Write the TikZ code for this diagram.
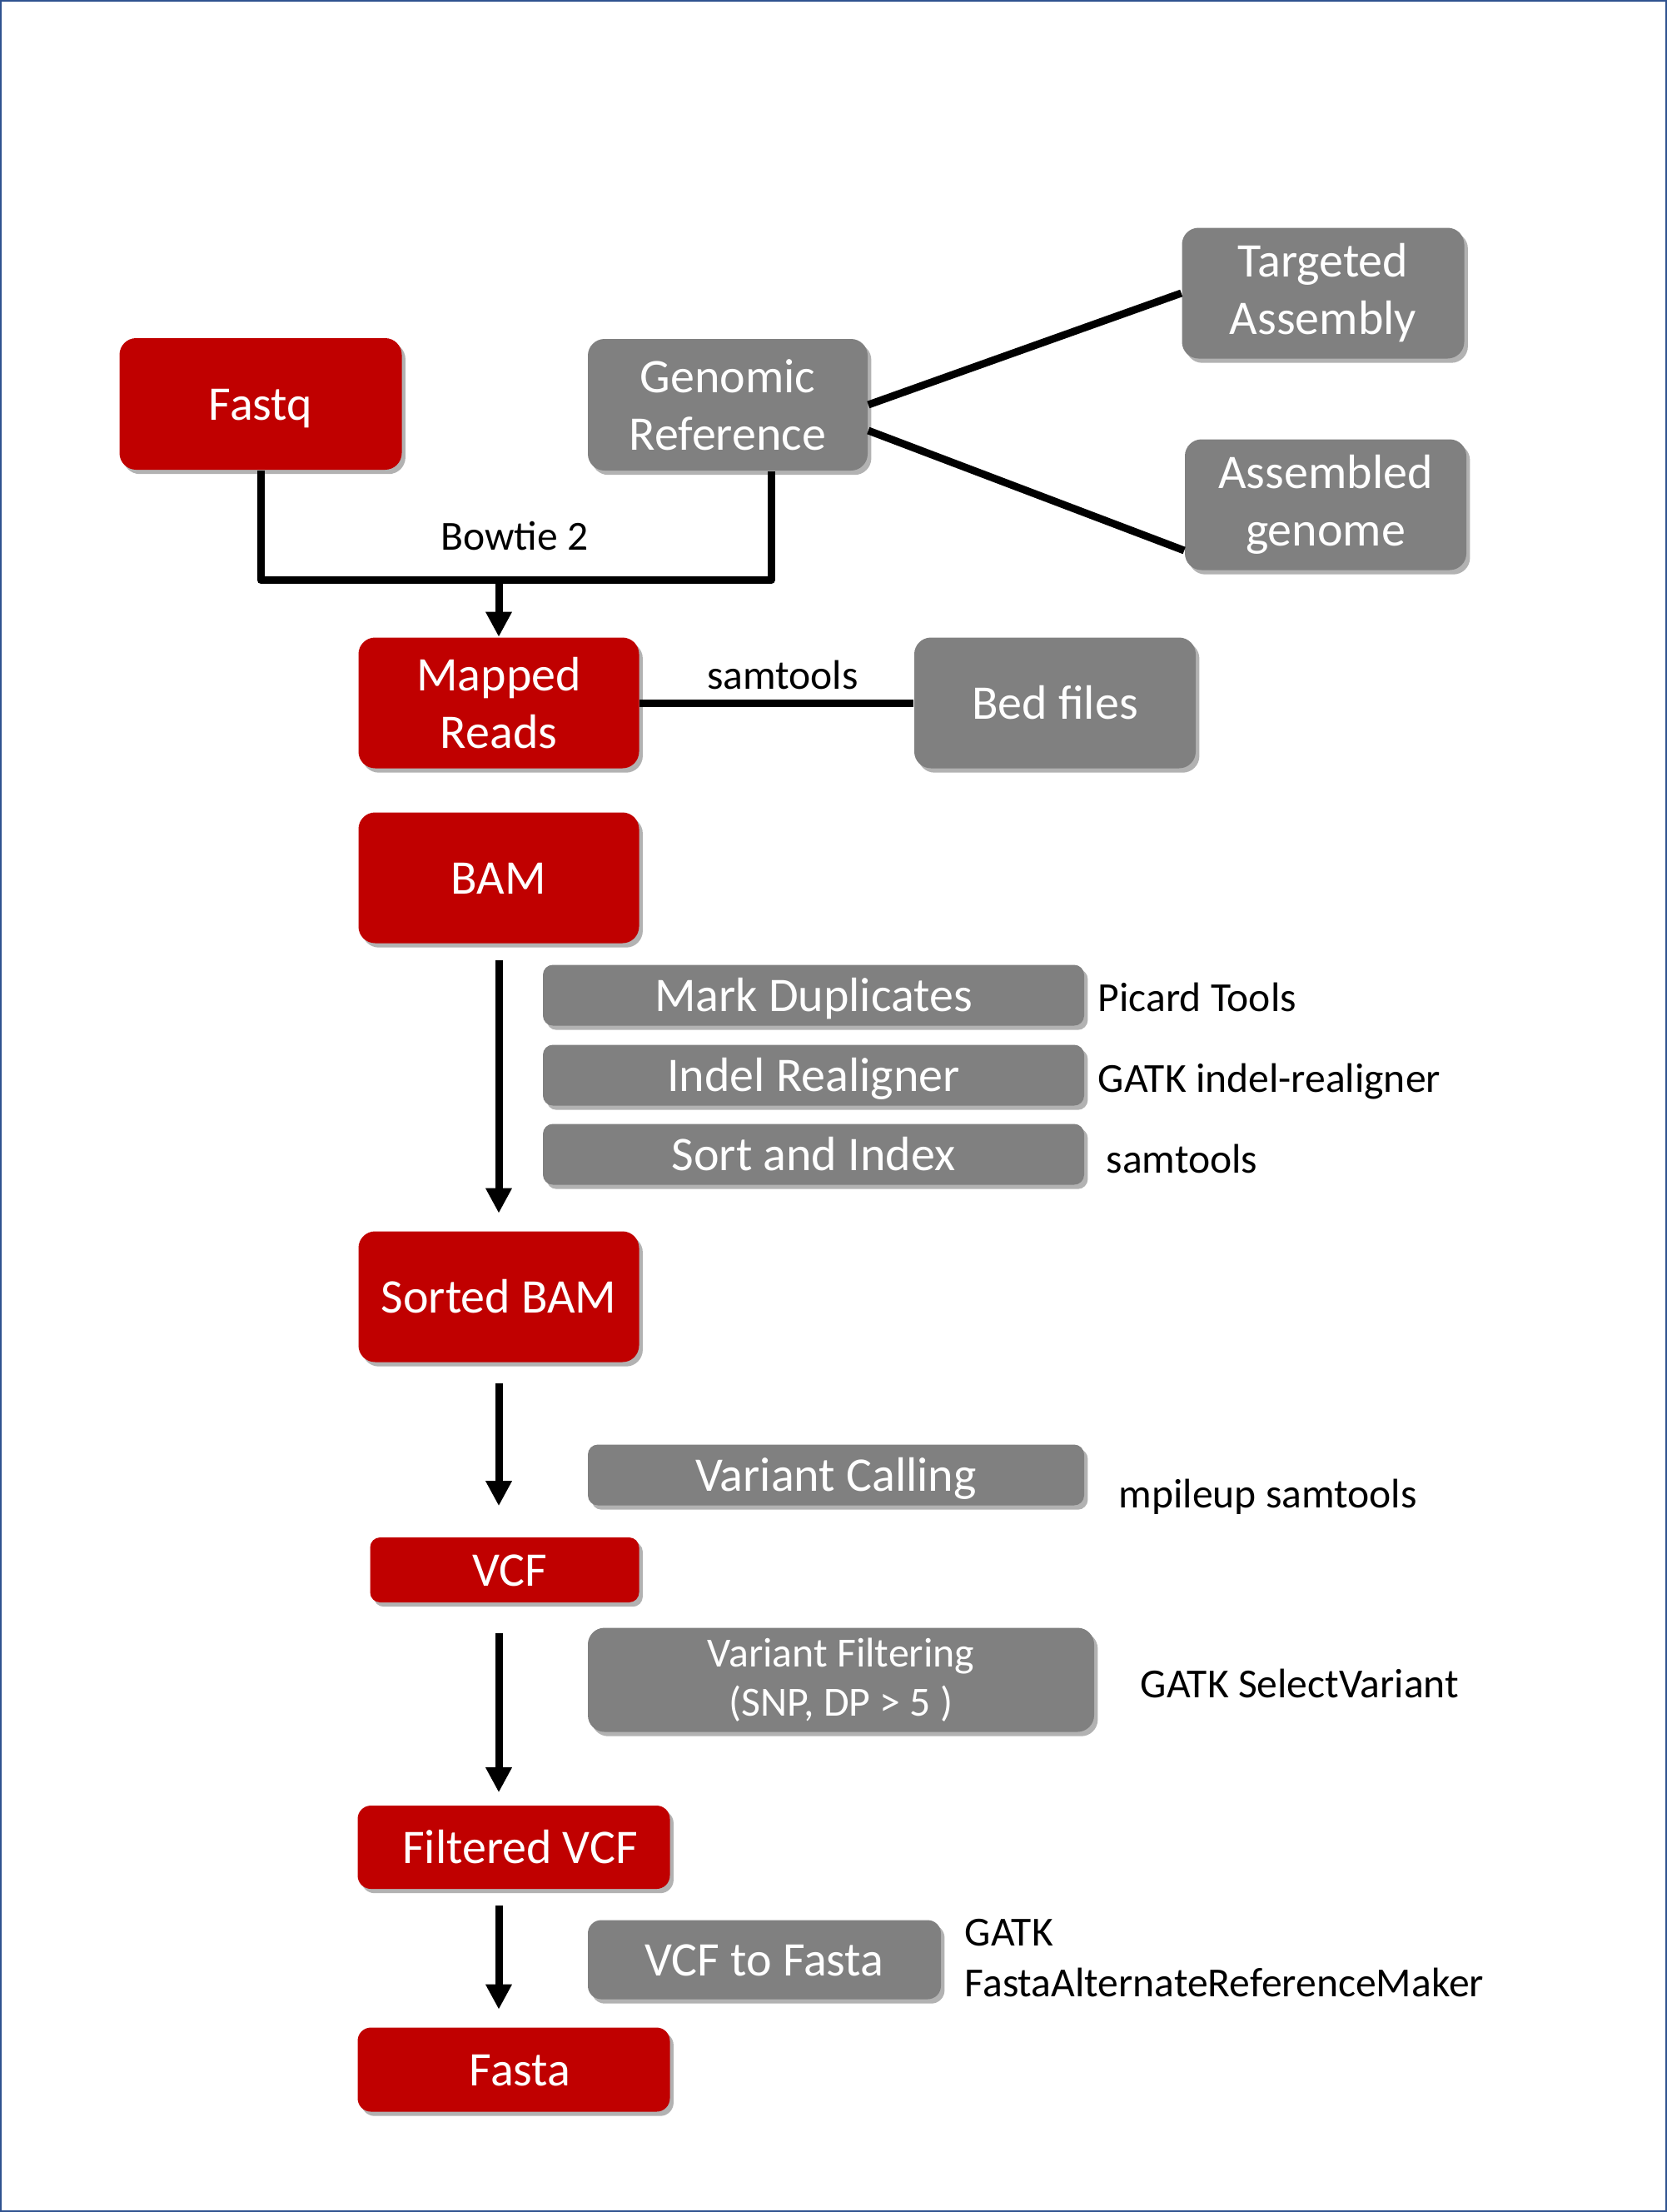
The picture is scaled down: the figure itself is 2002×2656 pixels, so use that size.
\documentclass[tikz,border=0pt]{standalone}
\usepackage{fontspec}
\setmainfont{Carlito}
\usetikzlibrary{arrows.meta,shadows,calc}
\definecolor{boxred}{HTML}{C00000}
\definecolor{boxgray}{HTML}{808080}
\definecolor{frameblue}{HTML}{2F528F}
\tikzset{
  basebox/.style={text=white, align=center, inner sep=0pt,
    font=\fontsize{14.5}{17.25}\selectfont,
    drop shadow={shadow xshift=1.1pt, shadow yshift=-1.3pt, opacity=0.3, fill=black}},
  oneline/.style={text height=9.9pt, text depth=0pt},
  redbox/.style={basebox, fill=boxred, rounded corners=5pt},
  graybox/.style={basebox, fill=boxgray, rounded corners=5pt},
  barbox/.style={basebox, oneline, fill=boxgray, rounded corners=3pt},
  lbl/.style={font=\fontsize{12.4}{15.25}\selectfont, inner sep=0pt, align=left},
  conn/.style={line width=2.25pt, line join=round},
  arr/.style={line width=2.25pt, -{Triangle[length=7.5pt,width=7.4pt]}}
}
\begin{document}
\begin{tikzpicture}[x=0.25pt,y=-0.25pt]
\useasboundingbox (0,0) rectangle (2002,2656);
\draw[frameblue, line width=0.6pt] (1.2,1.2) rectangle (2000.8,2654.8);

% boxes
\node[redbox, oneline, minimum width=84.75pt, minimum height=39.5pt] (fastq) at (313,485) {Fastq};
\node[graybox, minimum width=84pt, minimum height=39.5pt] (genref) at (874,486) {Genomic\\Reference};
\node[graybox, minimum width=84.75pt, minimum height=39.25pt] (targ) at (1589,352) {Targeted\\Assembly};
\node[graybox, minimum width=84.5pt, minimum height=39.25pt] (asm) at (1592,606) {Assembled\\genome};
\node[redbox, minimum width=84.25pt, minimum height=39.25pt] (mapped) at (599,844) {Mapped\\Reads};
\node[graybox, oneline, minimum width=84.5pt, minimum height=39.25pt] (bed) at (1267,844) {Bed files};
\node[redbox, oneline, minimum width=84.25pt, minimum height=39.25pt] (bam) at (599,1054) {BAM};
\node[barbox, minimum width=162.5pt, minimum height=18.25pt] (markdup) at (977,1195) {Mark Duplicates};
\node[barbox, minimum width=162.5pt, minimum height=18.25pt] (indel) at (977,1291) {Indel Realigner};
\node[barbox, minimum width=162.5pt, minimum height=18.25pt] (sortidx) at (977,1386) {Sort and Index};
\node[redbox, oneline, minimum width=84.25pt, minimum height=39.25pt] (sorted) at (599,1557) {Sorted BAM};
\node[barbox, minimum width=149pt, minimum height=18.25pt] (varcall) at (1004,1771) {Variant Calling};
\node[redbox, oneline, rounded corners=3pt, minimum width=80.75pt, minimum height=19.5pt] (vcf) at (606,1885) {\hspace*{3pt}VCF};
\node[graybox, font=\fontsize{12.45}{14.75}\selectfont, minimum width=152pt, minimum height=31.25pt] (varfilt) at (1010,2017) {Variant Filtering\\(SNP, DP > 5 )};
\node[redbox, oneline, rounded corners=4pt, minimum width=93.75pt, minimum height=25pt] (fvcf) at (617,2218) {\hspace*{3.8pt}Filtered VCF};
\node[graybox, oneline, rounded corners=4pt, minimum width=106pt, minimum height=23.75pt] (vcf2fa) at (918,2353) {VCF to Fasta};
\node[redbox, oneline, rounded corners=4pt, minimum width=93.75pt, minimum height=25.25pt] (fasta) at (617,2485) {\hspace*{3.8pt}Fasta};

% labels
\node[lbl] (bowtie) at (618,644) {Bowtie 2};
\node[lbl] (samt1) at (940,810) {samtools};
\node[lbl, anchor=west] (picard) at (1318,1197) {Picard Tools};
\node[lbl, anchor=west] (gatkindel) at (1318,1299) {GATK indel-realigner};
\node[lbl, anchor=west] (samt2) at (1328,1391) {samtools};
\node[lbl, anchor=west] (mpileup) at (1343,1797) {mpileup samtools};
\node[lbl, anchor=west] (select) at (1369,2021) {GATK SelectVariant};
\node[lbl, anchor=west] (farm) at (1158,2351) {GATK\\FastaAlternateReferenceMaker};

% connectors
\path (fastq.south) ++(0,132) coordinate (jl);
\draw[conn] (fastq.south) -- (jl) -| ([xshift=13pt]genref.south);
\draw[arr] (mapped.north |- jl) -- (mapped.north);
\draw[conn] (genref.east) -- (targ.west);
\draw[conn] ([yshift=-7.75pt]genref.east) -- ([yshift=-13.75pt]asm.west);
\draw[conn] (mapped.east) -- (bed.west);

\draw[arr, shorten <=5pt, shorten >=5.25pt] (bam.south) -- (bam.south |- sorted.north);
\draw[arr, shorten <=6.25pt, shorten >=9.25pt] (sorted.south) -- (sorted.south |- vcf.north);
\draw[arr, shorten <=9pt, shorten >=3.75pt] (sorted.south |- vcf.south) -- (sorted.south |- fvcf.north);
\draw[arr, shorten <=4.75pt, shorten >=5.25pt] (sorted.south |- fvcf.south) -- (sorted.south |- fasta.north);
\end{tikzpicture}
\end{document}
